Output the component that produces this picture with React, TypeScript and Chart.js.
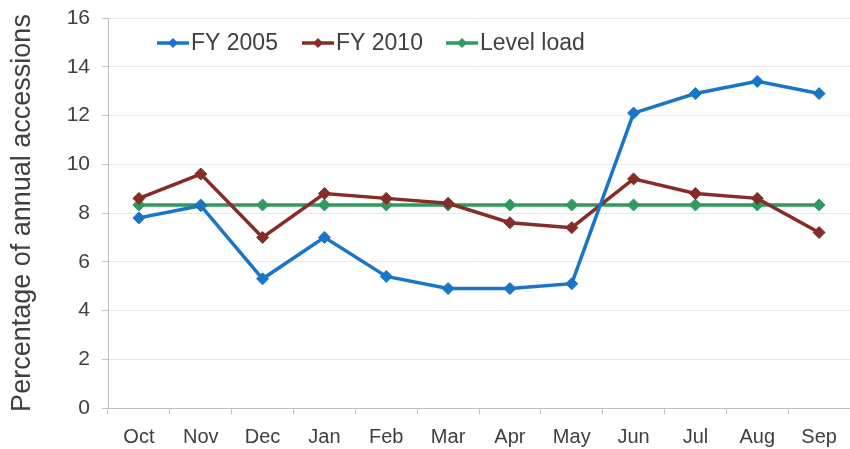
import React, { useEffect, useRef } from "react";
import { Chart, registerables } from "chart.js";

Chart.register(...registerables);

const months = ["Oct", "Nov", "Dec", "Jan", "Feb", "Mar", "Apr", "May", "Jun", "Jul", "Aug", "Sep"];
const fy2005 = [7.8, 8.3, 5.3, 7.0, 5.4, 4.9, 4.9, 5.1, 12.1, 12.9, 13.4, 12.9];
const fy2010 = [8.6, 9.6, 7.0, 8.8, 8.6, 8.4, 7.6, 7.4, 9.4, 8.8, 8.6, 7.2];
const levelLoad = [8.33, 8.33, 8.33, 8.33, 8.33, 8.33, 8.33, 8.33, 8.33, 8.33, 8.33, 8.33];
const seriesNames = ["FY 2005", "FY 2010", "Level load"];
const seriesColors = ["#1a75c9", "#852d26", "#2f9a5e"];

const FONT = "'Liberation Sans', Arial, sans-serif";
const TEXT = "#404040";

const legendPlugin = {
  id: "insideLegend",
  afterDraw(chart: any) {
    const ctx = chart.ctx;
    const starts = [157, 302, 446];
    const y = 43;
    ctx.save();
    ctx.font = `23px ${FONT}`;
    ctx.textBaseline = "middle";
    [0, 1, 2].forEach((i) => {
      const x0 = starts[i];
      const color = seriesColors[i];
      ctx.strokeStyle = color;
      ctx.lineWidth = 3.5;
      ctx.beginPath();
      ctx.moveTo(x0, y);
      ctx.lineTo(x0 + 32, y);
      ctx.stroke();
      ctx.fillStyle = color;
      ctx.beginPath();
      const cx = x0 + 16;
      const r = 5;
      ctx.moveTo(cx, y - r);
      ctx.lineTo(cx + r, y);
      ctx.lineTo(cx, y + r);
      ctx.lineTo(cx - r, y);
      ctx.closePath();
      ctx.fill();
      ctx.fillStyle = TEXT;
      ctx.textAlign = "left";
      ctx.fillText(seriesNames[i], x0 + 34, y + 1);
    });
    ctx.restore();
  },
};

export default function App() {
  const ref = useRef<HTMLCanvasElement | null>(null);
  useEffect(() => {
    if (!ref.current) return;
    const mk = (label: string, data: number[], color: string) => ({
      label,
      data,
      borderColor: color,
      backgroundColor: color,
      borderWidth: 3.5,
      pointStyle: "rectRot" as const,
      pointRadius: 6,
      pointBorderWidth: 1,
      tension: 0,
    });
    const chart = new Chart(ref.current, {
      type: "line",
      data: {
        labels: months,
        datasets: [
          mk(seriesNames[0], fy2005, seriesColors[0]),
          mk(seriesNames[1], fy2010, seriesColors[1]),
          mk(seriesNames[2], levelLoad, seriesColors[2]),
        ],
      },
      options: {
        animation: false,
        responsive: false,
        devicePixelRatio: 1,
        layout: { autoPadding: false, padding: { top: 18, right: 0, left: 0, bottom: 0 } },
        plugins: { legend: { display: false }, tooltip: { enabled: false } },
        scales: {
          x: {
            offset: true,
            grid: {
              offset: true,
              drawOnChartArea: false,
              drawTicks: true,
              tickLength: 6,
              color: "#bfbfbf",
            },
            border: { color: "#bfbfbf", width: 1 },
            ticks: { color: TEXT, font: { family: FONT, size: 20 }, padding: 11, maxRotation: 0 },
            afterFit(scale: any) {
              scale.height = 41;
              scale.paddingLeft = 0;
              scale.paddingRight = 0;
            },
          },
          y: {
            min: 0,
            max: 16,
            ticks: { stepSize: 2, color: TEXT, font: { family: FONT, size: 21 }, padding: 12 },
            grid: { color: "#e8e8e8", tickLength: 6, tickColor: "#bfbfbf" },
            border: { color: "#bfbfbf", width: 1 },
            title: {
              display: true,
              text: "Percentage of annual accessions",
              color: TEXT,
              font: { family: FONT, size: 27 },
              padding: { top: 6, bottom: 0 },
            },
            afterFit(scale: any) {
              scale.width = 108;
              scale.paddingTop = 0;
              scale.paddingBottom = 0;
            },
          },
        },
      },
      plugins: [legendPlugin],
    });
    return () => chart.destroy();
  }, []);
  return (
    <div style={{ position: "absolute", left: 0, top: 0, width: 850, height: 449, background: "#fff" }}>
      <canvas ref={ref} width={850} height={449} style={{ display: "block" }} />
    </div>
  );
}
